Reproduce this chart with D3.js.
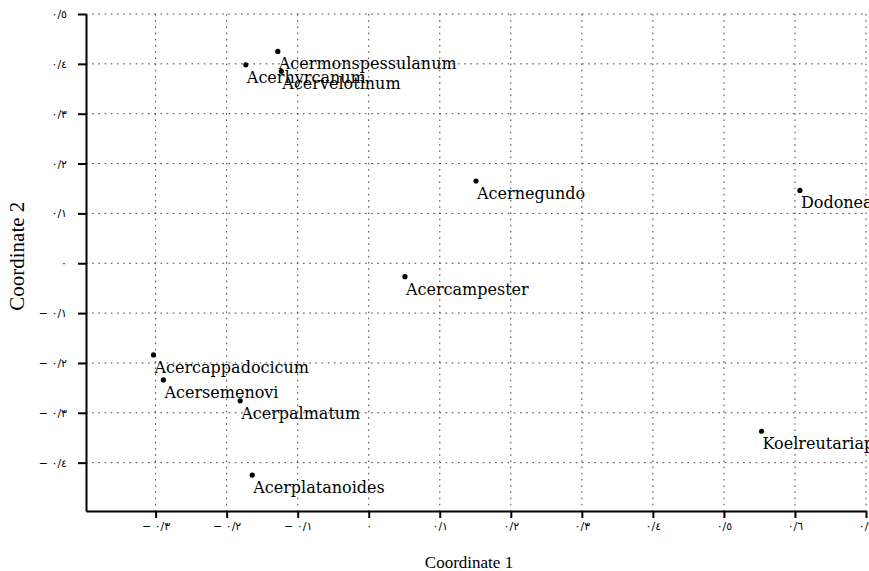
<!DOCTYPE html>
<html>
<head>
<meta charset="utf-8">
<script src="https://cdn.jsdelivr.net/npm/d3@7/dist/d3.min.js"></script>
<style>
  body { margin: 0; background: #fff; overflow: hidden; }
  .label { font-family: "DejaVu Serif", serif; font-size: 16px; fill: #000; }
  .title { font-family: "Liberation Serif", "Times New Roman", serif; fill: #000; }
  .tick text { font-family: "DejaVu Sans", sans-serif; font-size: 11px; fill: #000; }
  .grid line { stroke: #444; stroke-width: 1; stroke-dasharray: 1.6,4.6; }
</style>
</head>
<body>
<div id="chart"></div>
<script>
// species and their coordinates on the two axes
var species = ["Acermonspessulanum", "Acerhyrcanum", "Acervelotinum", "Acernegundo",
               "Dodoneaviscosa", "Acercampester", "Acercappadocicum", "Acersemenovi",
               "Acerpalmatum", "Acerplatanoides", "Koelreutariapaniculata"];
var coord1 = [-0.128, -0.173, -0.123, 0.151, 0.607, 0.051, -0.303, -0.289, -0.181, -0.164, 0.553];
var coord2 = [0.425, 0.398, 0.385, 0.165, 0.146, -0.027, -0.184, -0.234, -0.276, -0.425, -0.337];

var xTicks = [-0.3, -0.2, -0.1, 0, 0.1, 0.2, 0.3, 0.4, 0.5, 0.6, 0.7];
var yTicks = [-0.4, -0.3, -0.2, -0.1, 0, 0.1, 0.2, 0.3, 0.4, 0.5];

// arabic-indic digits, "/" as decimal mark
var digits = ["\u0660","\u0661","\u0662","\u0663","\u0664","\u0665","\u0666","\u0667","\u0668","\u0669"];
var fmt = function(v) {
  if (Math.abs(v) < 1e-9) return digits[0];
  var n = Math.round(Math.abs(v) * 10);
  return (v < 0 ? "\u2212 " : "") + digits[0] + "/" + digits[n];
};

var W = 869, H = 571;
var margin = {top: 14, right: 3, bottom: 60, left: 86},
    width = W - margin.left - margin.right,
    height = H - margin.top - margin.bottom;

var svg = d3.select("#chart").append("svg")
    .attr("width", W)
    .attr("height", H)
  .append("g")
    .attr("transform", "translate(" + margin.left + "," + margin.top + ")");

var x = d3.scaleLinear().domain([-0.398, 0.7]).range([0, width]);
var y = d3.scaleLinear().domain([-0.497, 0.5]).range([height, 0]);

// dotted grid
svg.append("g").attr("class", "grid")
  .selectAll("line").data(xTicks).enter().append("line")
    .attr("x1", function(d) { return x(d); })
    .attr("x2", function(d) { return x(d); })
    .attr("y1", y(0.5))
    .attr("y2", height);

svg.append("g").attr("class", "grid")
  .selectAll("line").data(yTicks).enter().append("line")
    .attr("x1", 0)
    .attr("x2", x(0.7))
    .attr("y1", function(d) { return y(d); })
    .attr("y2", function(d) { return y(d); });

// axes
svg.append("g")
    .attr("class", "axis")
    .attr("transform", "translate(0," + height + ")")
    .call(d3.axisBottom(x).tickValues(xTicks).tickFormat(fmt).tickSize(7).tickPadding(4).tickSizeOuter(0));

svg.append("g")
    .attr("class", "axis")
    .call(d3.axisLeft(y).tickValues(yTicks).tickFormat(fmt).tickSize(8).tickPadding(11).tickSizeOuter(0));

svg.selectAll(".axis .domain").attr("stroke", "#000").attr("stroke-width", 2);
svg.selectAll(".axis .tick line").attr("stroke", "#000").attr("stroke-width", 2);

// axis titles
svg.append("text")
    .attr("class", "title")
    .attr("x", 383)
    .attr("y", height + 57)
    .style("font-size", "17px")
    .style("text-anchor", "middle")
    .text("Coordinate 1");

svg.append("text")
    .attr("class", "title")
    .attr("transform", "translate(-62," + (y(0) - 7) + ") rotate(-90)")
    .style("font-size", "21px")
    .style("text-anchor", "middle")
    .text("Coordinate 2");

// points + names
var pts = species.map(function(s, i) { return {name: s, c1: coord1[i], c2: coord2[i]}; });

svg.selectAll(".dot")
    .data(pts)
  .enter().append("circle")
    .attr("class", "dot")
    .attr("r", 2.6)
    .attr("cx", function(d) { return x(d.c1); })
    .attr("cy", function(d) { return y(d.c2); })
    .attr("fill", "#000");

svg.selectAll(".label")
    .data(pts)
  .enter().append("text")
    .attr("class", "label")
    .attr("x", function(d) { return x(d.c1) + 1; })
    .attr("y", function(d) { return y(d.c2) + 18; })
    .text(function(d) { return d.name; });
</script>
</body>
</html>
